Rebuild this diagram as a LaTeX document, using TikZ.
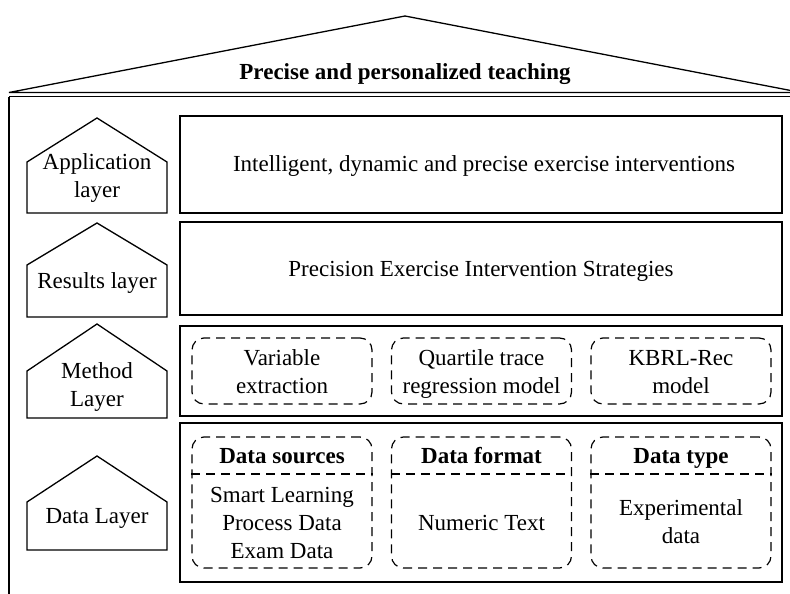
\documentclass[tikz,border=0pt]{standalone}
\usepackage{fontspec}
\setmainfont{Liberation Serif}
\begin{document}
\begin{tikzpicture}[x=1pt,y=-1pt,
  txt/.style={font=\fontsize{23}{28}\selectfont, align=center, inner sep=0pt},
  line1/.style={text height=15pt, text depth=5pt},
  hdr/.style={font=\fontsize{23}{28}\selectfont\bfseries, align=center, inner sep=0pt,
    text height=15pt, text depth=5pt},
  solid line/.style={line width=1.3pt},
  layerbox/.style={draw, solid line, minimum width=602pt, inner sep=0pt},
  dashbox/.style={draw, line width=1.2pt, dash pattern=on 9pt off 6pt, rounded corners=12pt,
    minimum width=180pt, inner sep=0pt},
  divider/.style={line width=1.2pt, dash pattern=on 9pt off 6pt},
  house/.style={draw, solid line, line join=miter}
]
\clip (0,0) rectangle (790,594);

% roof and outer frame
\draw[solid line, line join=miter] (9,92.5) -- (405,16) -- (801,92.5) -- cycle;
\draw[solid line] (9,96.5) -- (800,96.5);
\draw[solid line] (9,96.5) -- (9,600);
\node[hdr] (title) at (405,75) {Precise and personalized teaching};

% left layer labels (house shapes)
\draw[house] (27,213) -- (27,162) -- (97,118) -- (167,162) -- (167,213) -- cycle;
\node[txt] (lapp) at (97,178) {Application\\layer};
\draw[house] (27,317) -- (27,265) -- (97,223) -- (167,265) -- (167,317) -- cycle;
\node[txt, line1] (lres) at (97,283) {Results layer};
\draw[house] (27,418) -- (27,371) -- (97,324) -- (167,371) -- (167,418) -- cycle;
\node[txt] (lmet) at (97,387) {Method\\Layer};
\draw[house] (27,550) -- (27,502) -- (97,456) -- (167,502) -- (167,550) -- cycle;
\node[txt, line1] (ldat) at (97,518) {Data Layer};

% right layer boxes
\node[layerbox, minimum height=97pt] (app) at (481,164.5) {};
\node[txt, line1] (apptxt) at (484,166.7) {Intelligent, dynamic and precise exercise interventions};
\node[layerbox, minimum height=93pt] (res) at (481,268.5) {};
\node[txt, line1] (restxt) at (481,271.7) {Precision Exercise Intervention Strategies};
\node[layerbox, minimum height=90pt] (met) at (481,371) {};
\node[layerbox, minimum height=159pt] (dat) at (481,502.5) {};

% method layer items
\node[dashbox, minimum height=66pt] (m1) at (282,371) {};
\node[txt] (m1t) at (282,372) {Variable\\extraction};
\node[dashbox, minimum height=66pt] (m2) at (481.5,371) {};
\node[txt] (m2t) at (481.5,374) {Quartile trace\\regression model};
\node[dashbox, minimum height=66pt] (m3) at (681,371) {};
\node[txt] (m3t) at (681,372) {KBRL-Rec\\model};

% data layer items
\node[dashbox, minimum height=131pt] (d1) at (282,502.5) {};
\node[dashbox, minimum height=131pt] (d2) at (481.5,502.5) {};
\node[dashbox, minimum height=131pt] (d3) at (681,502.5) {};
\foreach \b in {d1,d2,d3}{
  \draw[divider] (\b.west |- 0,474) -- (\b.east |- 0,474);
}
\node[hdr] (d1h) at (282,458) {Data sources};
\node[hdr] (d2h) at (481.5,458) {Data format};
\node[hdr] (d3h) at (681,458) {Data type};
\node[txt] (d1t) at (282,523) {Smart Learning\\Process Data\\Exam Data};
\node[txt, line1] (d2t) at (481.5,525) {Numeric Text};
\node[txt] (d3t) at (681,522) {Experimental\\data};
\end{tikzpicture}
\end{document}
